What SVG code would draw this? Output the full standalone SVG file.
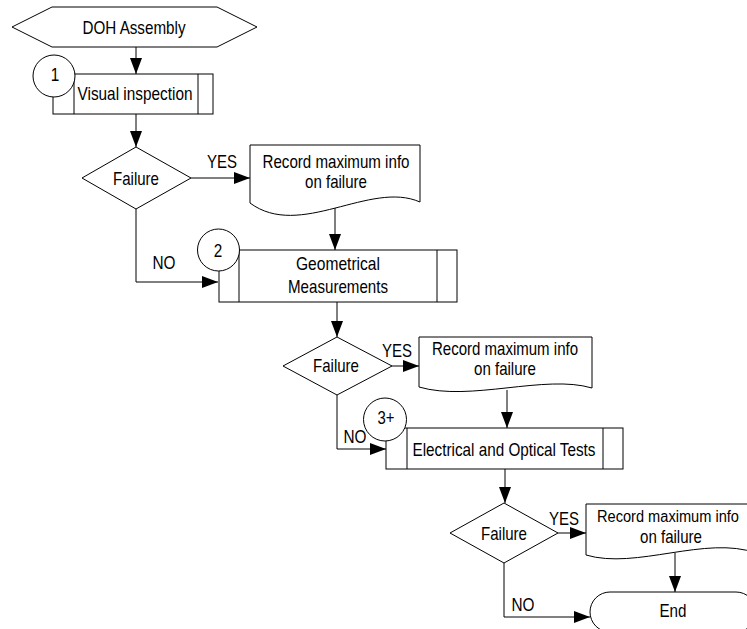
<svg xmlns="http://www.w3.org/2000/svg" width="747" height="629" viewBox="0 0 747 629">
<style>
.s{fill:#fff;stroke:#000;stroke-width:1}
.c{fill:none;stroke:#000;stroke-width:1}
.t{font-family:"Liberation Sans Narrow","Liberation Sans",Arial,sans-serif;font-size:18.5px;fill:#000;text-anchor:middle}
</style>
<defs>
<marker id="ah" markerWidth="16" markerHeight="12" refX="16" refY="6" orient="auto" markerUnits="userSpaceOnUse">
<path d="M0,0 L16,6 L0,12 z" fill="#000"/>
</marker>
</defs>
<rect width="747" height="629" fill="#fff"/>
<g id="connectors">
<path class="c" d="M136,47 V74" marker-end="url(#ah)"/>
<path class="c" d="M136,114 V147" marker-end="url(#ah)"/>
<path class="c" d="M191,178 H250" marker-end="url(#ah)"/>
<path class="c" d="M335,207 V250" marker-end="url(#ah)"/>
<path class="c" d="M136,209 V282 H218" marker-end="url(#ah)"/>
<path class="c" d="M337,302 V337" marker-end="url(#ah)"/>
<path class="c" d="M392,366 H419" marker-end="url(#ah)"/>
<path class="c" d="M507,390 V428" marker-end="url(#ah)"/>
<path class="c" d="M337,395 V449 H386" marker-end="url(#ah)"/>
<path class="c" d="M505,469 V503" marker-end="url(#ah)"/>
<path class="c" d="M558,533 H586" marker-end="url(#ah)"/>
<path class="c" d="M675,553 V592" marker-end="url(#ah)"/>
<path class="c" d="M504,563 V617 H590" marker-end="url(#ah)"/>
<text class="t" x="222" y="168" textLength="30" lengthAdjust="spacingAndGlyphs">YES</text>
<text class="t" x="164" y="269" textLength="23" lengthAdjust="spacingAndGlyphs">NO</text>
<text class="t" x="397" y="357" textLength="30" lengthAdjust="spacingAndGlyphs">YES</text>
<text class="t" x="355" y="443" textLength="23" lengthAdjust="spacingAndGlyphs">NO</text>
<text class="t" x="564" y="525" textLength="30" lengthAdjust="spacingAndGlyphs">YES</text>
<text class="t" x="523" y="611" textLength="23" lengthAdjust="spacingAndGlyphs">NO</text>
</g>
<g id="start">
<polygon class="s" points="12,27 52,7 217,7 257,27 217,47 52,47"/>
<text class="t" x="134" y="34" textLength="103" lengthAdjust="spacingAndGlyphs">DOH Assembly</text>
</g>
<g id="visual">
<rect class="s" x="53" y="74" width="160" height="40"/>
<path class="c" d="M74,74 V114 M198,74 V114"/>
<text class="t" x="135" y="100" textLength="115" lengthAdjust="spacingAndGlyphs">Visual inspection</text>
<circle class="s" cx="54" cy="76" r="21"/>
<text class="t" x="55" y="81" textLength="8.5" lengthAdjust="spacingAndGlyphs">1</text>
</g>
<g id="failure1">
<polygon class="s" points="136,147 191,178 136,209 82,178"/>
<text class="t" x="136" y="185" textLength="46" lengthAdjust="spacingAndGlyphs">Failure</text>
</g>
<g id="record1">
<path class="s" d="M250,145 H420 V202 C370,180 300,240 250,203 Z"/>
<text class="t" x="336" y="168" textLength="147" lengthAdjust="spacingAndGlyphs">Record maximum info</text>
<text class="t" x="336" y="188" textLength="62" lengthAdjust="spacingAndGlyphs">on failure</text>
</g>
<g id="geometrical">
<rect class="s" x="219" y="250" width="238" height="52"/>
<path class="c" d="M239,250 V302 M437,250 V302"/>
<text class="t" x="338" y="270" textLength="84" lengthAdjust="spacingAndGlyphs">Geometrical</text>
<text class="t" x="338" y="293" textLength="100" lengthAdjust="spacingAndGlyphs">Measurements</text>
<circle class="s" cx="218.5" cy="250" r="21"/>
<text class="t" x="218" y="257" textLength="8.5" lengthAdjust="spacingAndGlyphs">2</text>
</g>
<g id="failure2">
<polygon class="s" points="337,337 392,366 337,395 283,366"/>
<text class="t" x="336" y="372" textLength="46" lengthAdjust="spacingAndGlyphs">Failure</text>
</g>
<g id="record2">
<path class="s" d="M419,337 H592 V388 C545,374 470,402 419,387 Z"/>
<text class="t" x="505" y="355" textLength="146" lengthAdjust="spacingAndGlyphs">Record maximum info</text>
<text class="t" x="505" y="375" textLength="62" lengthAdjust="spacingAndGlyphs">on failure</text>
</g>
<g id="electrical">
<rect class="s" x="386" y="428" width="237" height="41"/>
<path class="c" d="M407,428 V469 M603,428 V469"/>
<text class="t" x="504" y="456" textLength="183" lengthAdjust="spacingAndGlyphs">Electrical and Optical Tests</text>
<circle class="s" cx="385" cy="419.5" r="21.5"/>
<text class="t" x="386" y="424" textLength="17" lengthAdjust="spacingAndGlyphs">3+</text>
</g>
<g id="failure3">
<polygon class="s" points="504,503 558,533 504,563 450,533"/>
<text class="t" x="504" y="540" textLength="46" lengthAdjust="spacingAndGlyphs">Failure</text>
</g>
<g id="record3">
<path class="s" d="M586,504 H756 V553 C706,535 636,570 586,555 Z"/>
<text class="t" x="668" y="522" style="font-size:16px" textLength="142" lengthAdjust="spacingAndGlyphs">Record maximum info</text>
<text class="t" x="671" y="543" textLength="62" lengthAdjust="spacingAndGlyphs">on failure</text>
</g>
<g id="end">
<rect class="s" x="590" y="592" width="166" height="40" rx="20" ry="20"/>
<text class="t" x="673" y="617" textLength="27" lengthAdjust="spacingAndGlyphs">End</text>
</g>
</svg>
